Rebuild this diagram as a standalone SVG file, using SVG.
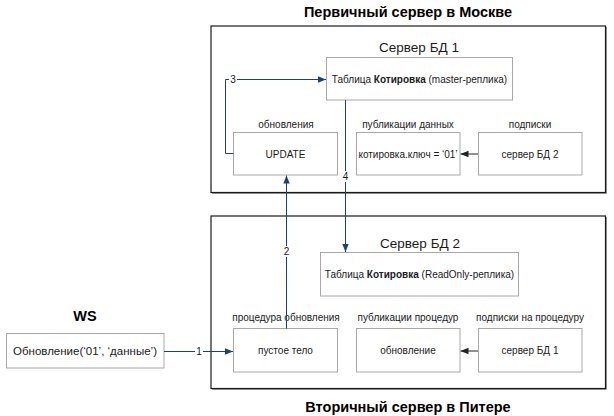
<svg xmlns="http://www.w3.org/2000/svg" width="614" height="416" viewBox="0 0 614 416">
<defs>
<style>
.outer{fill:#fff;stroke:#1a1a1a;stroke-width:1.2}
.shadow{fill:none;stroke:#9a9a9a;stroke-width:1}
.box{fill:#fff;stroke:#a8a8a8;stroke-width:1}
.t{font-family:"Liberation Sans",Arial,sans-serif;font-size:10px;fill:#1a1a1a;text-anchor:middle}
.tw{font-size:11.5px}
.h{font-family:"Liberation Sans",Arial,sans-serif;font-size:14.5px;font-weight:bold;fill:#000;text-anchor:middle}
.s{font-family:"Liberation Sans",Arial,sans-serif;font-size:13.5px;fill:#1a1a1a;text-anchor:middle}
.c{fill:none;stroke:#1f3f7f;stroke-width:1}
.cb{fill:none;stroke:#222;stroke-width:1}
.lbl{font-family:"Liberation Sans",Arial,sans-serif;font-size:10px;fill:#1a1a1a;text-anchor:middle}
</style>
<marker id="a" viewBox="0 0 10 10" refX="10" refY="5" markerWidth="8" markerHeight="8" markerUnits="userSpaceOnUse" orient="auto"><path d="M0,1 L10,5 L0,9 z" fill="#1f3f7f"/></marker>
<marker id="ab" viewBox="0 0 10 10" refX="10" refY="5" markerWidth="8" markerHeight="8" markerUnits="userSpaceOnUse" orient="auto"><path d="M0,1 L10,5 L0,9 z" fill="#222"/></marker>
</defs>
<rect width="614" height="416" fill="#fff"/>

<g id="primary">
<text class="h" x="408" y="17">Первичный сервер в Москве</text>
<polyline class="shadow" points="212,193.5 606.5,193.5 606.5,27"/>
<rect class="outer" x="211" y="26" width="394.5" height="166.5"/>
<text class="s" x="419" y="52">Сервер БД 1</text>
</g>
<g id="secondary">
<text class="h" x="408" y="412">Вторичный сервер в Питере</text>
<polyline class="shadow" points="212,389.5 606.5,389.5 606.5,217"/>
<rect class="outer" x="211" y="216" width="394.5" height="172.5"/>
<text class="s" x="420" y="248">Сервер БД 2</text>
</g>

<g id="table1"><rect class="box" x="326.5" y="57.5" width="186" height="42.5"/>
<text class="t" x="419.5" y="82.5">Таблица <tspan font-weight="bold">Котировка</tspan> (master-реплика)</text></g>
<g id="update"><text class="t" x="286" y="127.5">обновления</text>
<rect class="box" x="233.5" y="132.5" width="104" height="42.5"/>
<text class="t" x="285.5" y="157.5">UPDATE</text></g>
<g id="pubdata"><text class="t" x="408" y="127.5">публикации данных</text>
<rect class="box" x="356.5" y="132.5" width="103.5" height="42.5"/>
<text class="t" x="408" y="157.5">котировка.ключ = ‘01’</text></g>
<g id="subs"><text class="t" x="530" y="127.5">подписки</text>
<rect class="box" x="478.5" y="132.5" width="103.5" height="42.5"/>
<text class="t" x="530" y="157.5">сервер БД 2</text></g>

<g id="table2"><rect class="box" x="320.5" y="252.5" width="198" height="43.5"/>
<text class="t" x="419.5" y="277.5">Таблица <tspan font-weight="bold">Котировка</tspan> (ReadOnly-реплика)</text></g>
<g id="proc"><text class="t" x="286" y="320.5">процедура обновления</text>
<rect class="box" x="233.5" y="328.5" width="104" height="43.5"/>
<text class="t" x="285.5" y="354">пустое тело</text></g>
<g id="pubproc"><text class="t" x="408" y="320.5">публикации процедур</text>
<rect class="box" x="356.5" y="328.5" width="103.5" height="43.5"/>
<text class="t" x="408" y="354">обновление</text></g>
<g id="subproc"><text class="t" x="530" y="320.5">подписки на процедуру</text>
<rect class="box" x="478.5" y="328.5" width="103.5" height="43.5"/>
<text class="t" x="530" y="354">сервер БД 1</text></g>

<g id="ws"><text class="h" x="85" y="321">WS</text>
<rect class="box" x="6.5" y="333.5" width="157.5" height="34.5"/>
<text class="t tw" x="85" y="355">Обновление(‘01’, ‘данные’)</text></g>

<g id="connectors">
<polyline class="c" points="233.5,153.5 225.5,153.5 225.5,79.5 326,79.5" marker-end="url(#a)"/>
<rect x="229" y="73" width="8" height="12" fill="#fff"/>
<text class="lbl" x="233" y="83">3</text>
<polyline class="c" points="345.5,100 345.5,252" marker-end="url(#a)"/>
<rect x="341" y="171" width="9" height="11" fill="#fff"/>
<text class="lbl" x="345.5" y="180">4</text>
<polyline class="c" points="286.5,328.5 286.5,175.5" marker-end="url(#a)"/>
<rect x="282" y="246" width="9" height="11" fill="#fff"/>
<text class="lbl" x="286.5" y="255">2</text>
<polyline class="c" points="164,351.5 233,351.5" marker-end="url(#a)"/>
<rect x="195" y="346" width="8" height="11" fill="#fff"/>
<text class="lbl" x="199" y="355">1</text>
<polyline class="cb" points="478,154 460.5,154" marker-end="url(#ab)"/>
<polyline class="cb" points="478,351 460.5,351" marker-end="url(#ab)"/>
</g>
</svg>
